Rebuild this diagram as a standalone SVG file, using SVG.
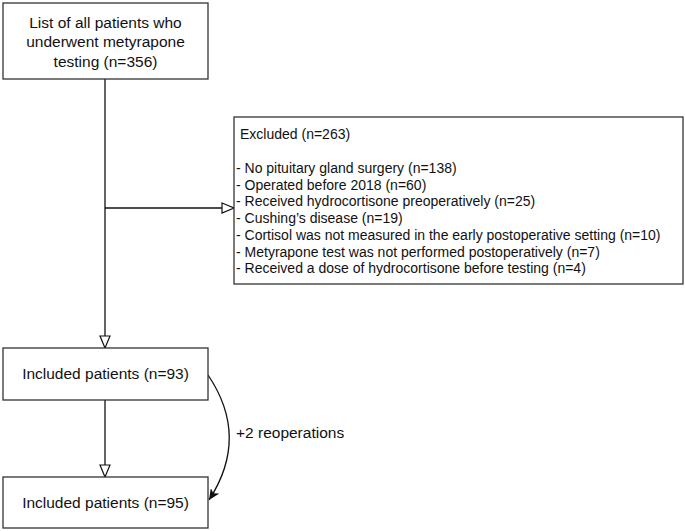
<svg xmlns="http://www.w3.org/2000/svg" width="685" height="531" viewBox="0 0 685 531">
<style>
.box{fill:#fff;stroke:#333;stroke-width:1.3}
.t{font-family:"Liberation Sans",Arial,sans-serif;font-size:15.5px;fill:#111}
.s{font-family:"Liberation Sans",Arial,sans-serif;font-size:14px;fill:#111}
.ln{fill:none;stroke:#111;stroke-width:1.3}
</style>
<defs>
<marker id="open" markerWidth="14" markerHeight="12" refX="13" refY="6" orient="auto" markerUnits="userSpaceOnUse">
<path d="M1,1 L13,6 L1,11 Z" fill="#fff" stroke="#111" stroke-width="1.2"/>
</marker>
<marker id="fill" markerWidth="12" markerHeight="10" refX="11" refY="5" orient="auto" markerUnits="userSpaceOnUse">
<path d="M0,0 L11,5 L0,10 L3,5 Z" fill="#111"/>
</marker>
</defs>
<g id="connectors">
<path class="ln" d="M105,79 L105,348" marker-end="url(#open)"/>
<path class="ln" d="M105,208 L234,208" marker-end="url(#open)"/>
<path class="ln" d="M105,400 L105,477" marker-end="url(#open)"/>
<path class="ln" d="M208,375 Q250,437 209,500" marker-end="url(#fill)"/>
<text class="t" x="236" y="438">+2 reoperations</text>
</g>
<g id="n1">
<rect class="box" x="3" y="3" width="205" height="76"/>
<text class="t" x="105.5" y="28" text-anchor="middle">List of all patients who</text>
<text class="t" x="105.5" y="47" text-anchor="middle">underwent metyrapone</text>
<text class="t" x="105.5" y="67" text-anchor="middle">testing (n=356)</text>
</g>
<g id="excluded">
<rect class="box" x="234" y="117" width="449" height="167"/>
<text class="s" x="240" y="139">Excluded (n=263)</text>
<text class="s" x="236" y="173">- No pituitary gland surgery (n=138)</text>
<text class="s" x="236" y="189.7">- Operated before 2018 (n=60)</text>
<text class="s" x="236" y="206.4">- Received hydrocortisone preoperatively (n=25)</text>
<text class="s" x="236" y="223.1">- Cushing’s disease (n=19)</text>
<text class="s" x="236" y="239.8">- Cortisol was not measured in the early postoperative setting (n=10)</text>
<text class="s" x="236" y="256.5">- Metyrapone test was not performed postoperatively (n=7)</text>
<text class="s" x="236" y="273.2">- Received a dose of hydrocortisone before testing (n=4)</text>
</g>
<g id="n2">
<rect class="box" x="3" y="348" width="205" height="52"/>
<text class="t" x="105.5" y="379" text-anchor="middle">Included patients (n=93)</text>
</g>
<g id="n3">
<rect class="box" x="3" y="477" width="205" height="51"/>
<text class="t" x="105.5" y="508" text-anchor="middle">Included patients (n=95)</text>
</g>
</svg>
